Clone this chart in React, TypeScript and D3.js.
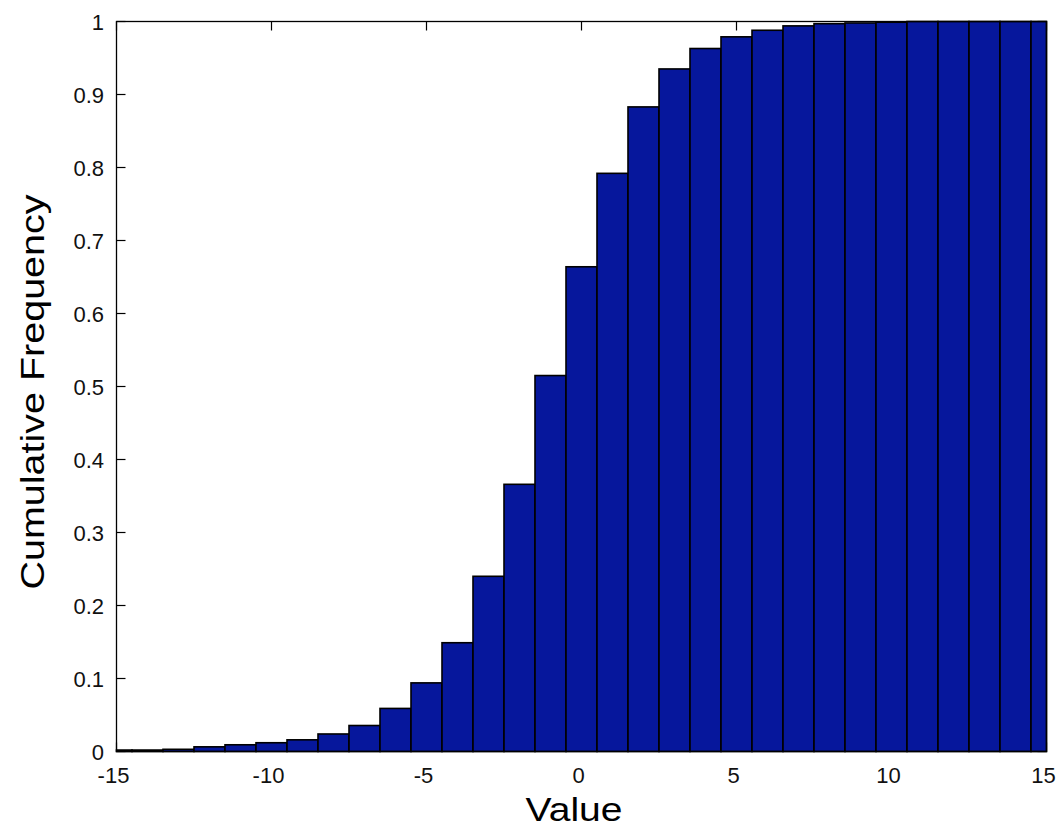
import React from "react";
import * as d3 from "d3";

const binCenters = [-15, -14, -13, -12, -11, -10, -9, -8, -7, -6, -5, -4, -3, -2, -1, 0, 1, 2, 3, 4, 5, 6, 7, 8, 9, 10, 11, 12, 13, 14, 15];
const cumFreq = [0.002, 0.002, 0.003, 0.0064, 0.0092, 0.012, 0.016, 0.024, 0.0356, 0.059, 0.094, 0.149, 0.240, 0.366, 0.515, 0.664, 0.792, 0.883, 0.935, 0.963, 0.979, 0.988, 0.994, 0.997, 0.998, 0.999, 1, 1, 1, 1, 1];
const xTicks = [-15, -10, -5, 0, 5, 10, 15];
const yTicks = [0, 0.1, 0.2, 0.3, 0.4, 0.5, 0.6, 0.7, 0.8, 0.9, 1];

const W = 1059, H = 829;
const L = 116.5, R = 1046.5, T = 21.5, B = 751.5;
const FONT = "'Liberation Sans', Arial, Helvetica, sans-serif";

export default function App() {
  const x = d3.scaleLinear().domain([-15, 15]).range([L, R]);
  const y = d3.scaleLinear().domain([0, 1]).range([B, T]);
  const tickLen = 9;
  const bars = binCenters.map((c, i) => {
    const x0 = x(Math.max(-15, c - 0.5));
    const x1 = x(Math.min(15, c + 0.5));
    return { x0, x1, v: cumFreq[i] };
  });
  return (
    <svg width={W} height={H} style={{ position: "absolute", left: 0, top: 0, background: "#fff" }}>
      <rect x={0} y={0} width={W} height={H} fill="#fff" />
      {/* ticks (layer bottom) */}
      <g stroke="#000" strokeWidth={1.2}>
        {xTicks.map((t) => (
          <g key={"xt" + t}>
            <line x1={x(t)} x2={x(t)} y1={B} y2={B - tickLen} />
            <line x1={x(t)} x2={x(t)} y1={T} y2={T + tickLen} />
          </g>
        ))}
        {yTicks.map((t) => (
          <g key={"yt" + t}>
            <line x1={L} x2={L + tickLen} y1={y(t)} y2={y(t)} />
            <line x1={R} x2={R - tickLen} y1={y(t)} y2={y(t)} />
          </g>
        ))}
      </g>
      {/* bars */}
      <g>
        {bars.map((b, i) => (
          <rect
            key={i}
            x={b.x0}
            y={y(b.v)}
            width={b.x1 - b.x0}
            height={B - y(b.v)}
            fill="#06179c"
            stroke="#000"
            strokeWidth={1.6}
          />
        ))}
      </g>
      {/* axis box */}
      <rect x={L} y={T} width={R - L} height={B - T} fill="none" stroke="#000" strokeWidth={1.3} />
      {/* tick labels */}
      <g fontFamily={FONT} fontSize={22} fill="#111">
        {xTicks.map((t) => (
          <text key={"xl" + t} x={x(t) - 3} y={783} textAnchor="middle">
            {t < 0 ? "-" + Math.abs(t) : String(t)}
          </text>
        ))}
        {yTicks.map((t) => (
          <text key={"yl" + t} x={104} y={y(t) + 8} textAnchor="end">
            {t === 0 ? "0" : t === 1 ? "1" : String(t)}
          </text>
        ))}
      </g>
      {/* axis titles */}
      <text x={574} y={821} textAnchor="middle" fontFamily={FONT} fontSize={34} fill="#000" textLength={97} lengthAdjust="spacingAndGlyphs">
        Value
      </text>
      <text
        transform={`translate(44, 392) rotate(-90)`}
        textAnchor="middle"
        fontFamily={FONT}
        fontSize={34}
        fill="#000"
        textLength={395}
        lengthAdjust="spacingAndGlyphs"
      >
        Cumulative Frequency
      </text>
    </svg>
  );
}
